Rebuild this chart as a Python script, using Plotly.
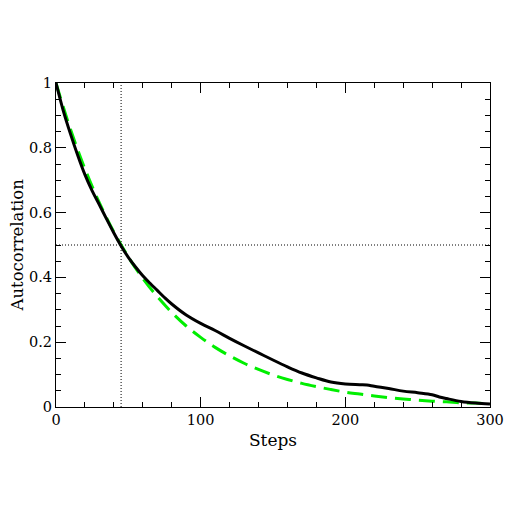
import plotly.graph_objects as go

# measured autocorrelation (black)
steps = [0, 5, 10, 15, 20, 25, 30, 35, 40, 45, 50, 55, 60, 65, 70, 75, 80, 90, 100,
         110, 120, 130, 140, 150, 160, 170, 180, 190, 200, 210, 215, 220, 230, 240,
         250, 260, 265, 270, 280, 290, 300]
acf = [1.0, 0.915, 0.843, 0.777, 0.717, 0.667, 0.624, 0.58, 0.537, 0.497, 0.462, 0.432,
       0.405, 0.382, 0.36, 0.338, 0.318, 0.284, 0.258, 0.236, 0.212, 0.189, 0.167,
       0.145, 0.124, 0.105, 0.09, 0.077, 0.071, 0.069, 0.068, 0.064, 0.057, 0.049,
       0.044, 0.038, 0.031, 0.026, 0.017, 0.012, 0.009]

# exponential fit (green dashed)
fit_steps = [0, 10, 20, 30, 40, 50, 60, 70, 80, 90, 100, 110, 120, 130, 140, 150,
             160, 170, 180, 190, 200, 210, 220, 230, 240, 250, 260, 270, 280, 290, 300]
fit_acf = [1.0, 0.857, 0.735, 0.630, 0.540, 0.463, 0.397, 0.341, 0.292, 0.250, 0.215,
           0.184, 0.158, 0.135, 0.116, 0.099, 0.085, 0.073, 0.063, 0.054, 0.046, 0.040,
           0.034, 0.029, 0.025, 0.021, 0.018, 0.016, 0.013, 0.012, 0.010]

half_step = 45
half_level = 0.5

fig = go.Figure()
fig.add_trace(go.Scatter(x=[half_step, half_step], y=[0, 1], mode='lines',
                         line=dict(color='black', width=1, dash='1px,2px')))
fig.add_trace(go.Scatter(x=[0, 300], y=[half_level, half_level], mode='lines',
                         line=dict(color='black', width=1, dash='1px,2px')))
fig.add_trace(go.Scatter(x=fit_steps, y=fit_acf, mode='lines', line_shape='spline',
                         line=dict(color='#00ee00', width=3, dash='16px,8px')))
fig.add_trace(go.Scatter(x=steps, y=acf, mode='lines', line_shape='spline',
                         line=dict(color='black', width=3)))

axis_font = dict(family='DejaVu Serif', size=14.5, color='black')
# page body adds 8px offset, so margins are shifted to compensate
fig.update_layout(
    width=518, height=518,
    margin=dict(l=48, r=36, t=75, b=119),
    plot_bgcolor='white', paper_bgcolor='white',
    showlegend=False,
    font=axis_font,
)
fig.update_xaxes(range=[0, 300], dtick=100, ticks='inside', ticklen=10, tickcolor='black',
                 minor=dict(dtick=20, ticks='inside', ticklen=5, tickcolor='black'),
                 showline=True, linecolor='black', linewidth=1, mirror='ticks',
                 showgrid=False, zeroline=False, automargin=False,
                 title=dict(text='Steps', standoff=6), tickfont=axis_font)
fig.update_yaxes(range=[0, 1], dtick=0.2, ticks='inside', ticklen=10, tickcolor='black',
                 minor=dict(dtick=0.05, ticks='inside', ticklen=5, tickcolor='black'),
                 showline=True, linecolor='black', linewidth=1, mirror='ticks',
                 showgrid=False, zeroline=False, automargin=False,
                 tickfont=axis_font)
# y title as annotation so it can sit further left
fig.add_annotation(text='Autocorrelation', textangle=-90, xref='paper', yref='paper',
                   x=-0.091, y=0.5, xanchor='center', yanchor='middle',
                   showarrow=False,
                   font=dict(family='DejaVu Serif', size=16.5, color='black'))

fig.write_html("out.html")
